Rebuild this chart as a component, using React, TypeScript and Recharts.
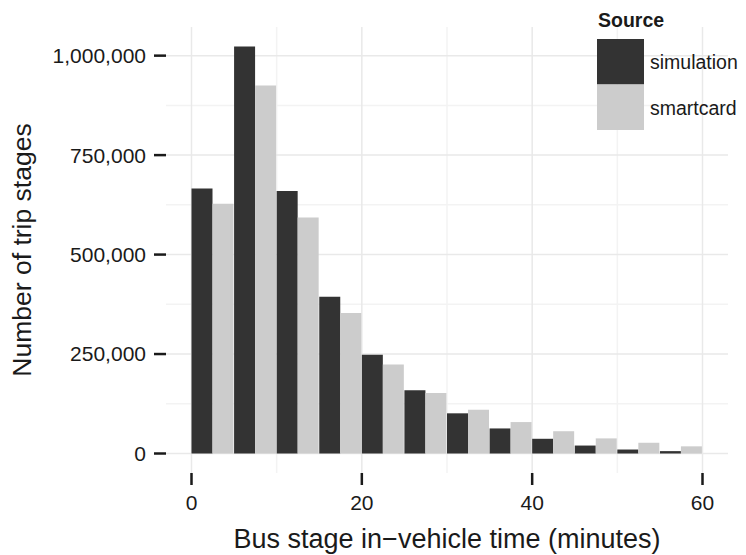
import React from "react";
import { BarChart, Bar, XAxis, YAxis, CartesianGrid, Legend } from "recharts";

// 5-minute bins of in-vehicle time
const bins = ["0-5", "5-10", "10-15", "15-20", "20-25", "25-30", "30-35", "35-40", "40-45", "45-50", "50-55", "55-60"];
const binMids = [2.5, 7.5, 12.5, 17.5, 22.5, 27.5, 32.5, 37.5, 42.5, 47.5, 52.5, 57.5];

// trip stage counts per bin
const simulation = [666000, 1023000, 660000, 394000, 248000, 159000, 101000, 63000, 37000, 20000, 10000, 6000];
const smartcard = [628000, 925000, 593000, 353000, 224000, 152000, 110000, 79000, 56000, 38000, 27000, 18000];

const yTicks = [0, 250000, 500000, 750000, 1000000];
const yMinor = [125000, 375000, 625000, 875000];
const xTicks = [0, 20, 40, 60];
const xMinor = [10, 30, 50];

const series = [
  { key: "simulation", color: "#333333" },
  { key: "smartcard", color: "#cccccc" },
];

const data = bins.map((bin, i) => ({
  bin,
  mid: binMids[i],
  simulation: simulation[i],
  smartcard: smartcard[i],
}));

const FONT = "'Liberation Sans', Arial, Helvetica, sans-serif";
const INK = "#1a1a1a";

const SourceKey = () => (
  <svg width={149} height={135} style={{ display: "block" }}>
    <text x={1} y={26.5} fontSize={19.5} fontWeight="bold" fill={INK} fontFamily={FONT}>
      Source
    </text>
    {series.map((s, i) => (
      <g key={s.key}>
        <rect x={0} y={39 + i * 45.5} width={47} height={45.5} fill={s.color} />
        <text x={53} y={68.5 + i * 46} fontSize={19.5} fill={INK} fontFamily={FONT}>
          {s.key}
        </text>
      </g>
    ))}
  </svg>
);

const fmt = (v: number) => v.toLocaleString("en-US");

export default function App() {
  return (
    <div style={{ width: 746, height: 555, fontFamily: FONT, background: "#fff" }}>
      <style>{"body{margin:0}"}</style>
      <BarChart
        width={746}
        height={555}
        data={data}
        margin={{ top: 27, right: 18, bottom: 52, left: 0 }}
        barCategoryGap={0}
        barGap={0}
      >
        <CartesianGrid xAxisId="t" horizontalValues={yMinor} verticalValues={xMinor} stroke="#f3f3f3" strokeWidth={1.5} />
        <CartesianGrid xAxisId="t" horizontalValues={yTicks} verticalValues={xTicks} stroke="#e9e9e9" strokeWidth={1.5} />
        <XAxis
          xAxisId="t"
          dataKey="mid"
          type="number"
          domain={[0, 60]}
          ticks={xTicks}
          allowDataOverflow
          padding={{ left: 25.5, right: 25.5 }}
          height={30}
          tickSize={12}
          tickMargin={10}
          axisLine={false}
          tickLine={{ stroke: INK, strokeWidth: 2.5 }}
          tick={{ fill: INK, fontSize: 21 }}
          label={{
            content: (p: any) => {
              const vb = p.viewBox;
              return (
                <text x={vb.x + vb.width / 2} y={vb.y + 75} textAnchor="middle" fontSize={27} fill={INK}>
                  Bus stage in−vehicle time (minutes)
                </text>
              );
            },
          }}
        />
        <XAxis xAxisId="bins" dataKey="bin" hide height={0} padding={{ left: 25.5, right: 25.5 }} />
        <YAxis
          domain={[-49000, 1072000]}
          ticks={yTicks}
          allowDataOverflow
          width={166}
          tickSize={12}
          tickMargin={8}
          axisLine={false}
          tickLine={{ stroke: INK, strokeWidth: 2.5 }}
          tick={{ fill: INK, fontSize: 21 }}
          tickFormatter={fmt}
          label={{
            content: (p: any) => {
              const vb = p.viewBox;
              const cx = vb.x + 31;
              const cy = vb.y + vb.height / 2;
              return (
                <text x={cx} y={cy} textAnchor="middle" fontSize={26.5} fill={INK} transform={`rotate(-90 ${cx} ${cy})`}>
                  Number of trip stages
                </text>
              );
            },
          }}
        />
        {series.map((s) => (
          <Bar key={s.key} xAxisId="bins" dataKey={s.key} fill={s.color} isAnimationActive={false} />
        ))}
        <Legend
          layout="vertical"
          align="center"
          verticalAlign="middle"
          wrapperStyle={{ left: 597, top: 0, width: 149, height: 135 }}
          content={() => <SourceKey />}
        />
      </BarChart>
    </div>
  );
}
